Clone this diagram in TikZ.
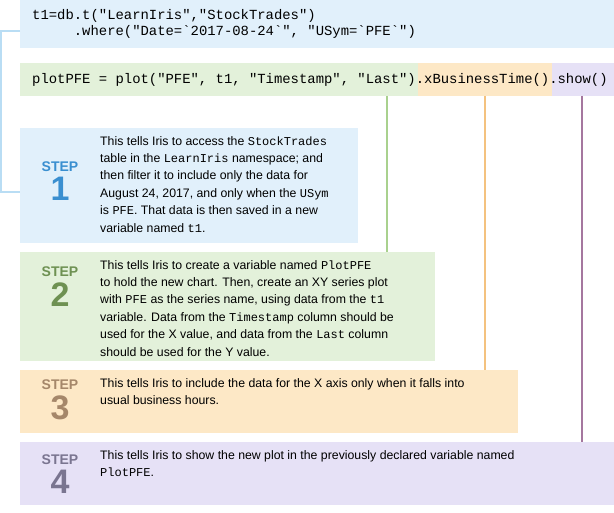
\documentclass[tikz,border=0pt]{standalone}
\usepackage{fontspec}
\setmainfont{Liberation Sans}
\setmonofont{Liberation Mono}
\usepackage{tikz}
\usetikzlibrary{positioning}
\definecolor{bluefill}{HTML}{E1F0FB}
\definecolor{blueink}{HTML}{3A8FD0}
\definecolor{blueline}{HTML}{B9DDF4}
\definecolor{greenfill}{HTML}{E3F1DA}
\definecolor{greenink}{HTML}{6E9152}
\definecolor{greenline}{HTML}{A9D18E}
\definecolor{orangefill}{HTML}{FDE8C6}
\definecolor{orangeink}{HTML}{A5876A}
\definecolor{orangeline}{HTML}{F4C27F}
\definecolor{purplefill}{HTML}{E6E1F6}
\definecolor{purpleink}{HTML}{7A7590}
\definecolor{purpleline}{HTML}{A5779F}
\tikzset{
  band/.style = {anchor=north west, inner sep=0pt, outer sep=0pt,
      minimum width=#1},
  codetext/.style = {anchor=west, inner sep=0pt, align=left,
      font=\fontsize{13.9}{16}\ttfamily},
  stepword/.style = {inner sep=0pt, font=\fontsize{14}{14}\bfseries},
  stepnum/.style = {inner sep=0pt, font=\fontsize{34}{34}\bfseries},
  steptext/.style = {anchor=north west, inner sep=0pt, align=left,
      font=\fontsize{12.3}{17.4}\selectfont},
  link/.style = {line width=1.6pt},
}
\newcommand{\cd}[1]{{\fontsize{12}{12}\ttfamily #1}}
\begin{document}
\begin{tikzpicture}[x=1pt, y=-1pt]
  \useasboundingbox (0,0) rectangle (614,513);

  % code lines
  \node[band=594, minimum height=48, fill=bluefill] (query) at (20,0) {};
  \node[band=398, minimum height=33, fill=greenfill] (plotcall) at (20,63) {};
  \node[band=134, minimum height=33, fill=orangefill] (bizcall) at (418,63) {};
  \node[band=62, minimum height=33, fill=purplefill] (showcall) at (552,63) {};
  \node[codetext] (querytext) at (32,24)
    {t1=db.t("LearnIris","StockTrades")\\
     \ \ \ \ \ .where("Date=`2017-08-24`", "USym=`PFE`")};
  \node[codetext] (plottext) at (32,80)
    {plotPFE = plot("PFE", t1, "Timestamp", "Last").xBusinessTime().show()};

  % step boxes
  \node[band=338, minimum height=115, fill=bluefill] (box1) at (20,128) {};
  \node[band=415, minimum height=109, fill=greenfill] (box2) at (20,252) {};
  \node[band=498, minimum height=63, fill=orangefill] (box3) at (20,370) {};
  \node[band=594, minimum height=63, fill=purplefill] (box4) at (20,442) {};

  \node[stepword, text=blueink] (step1) at (60,167) {STEP};
  \node[stepnum, text=blueink, below=5pt of step1] (num1) {1};
  \node[stepword, text=greenink] (step2) at (60,272) {STEP};
  \node[stepnum, text=greenink, below=5pt of step2] (num2) {2};
  \node[stepword, text=orangeink] (step3) at (60,385) {STEP};
  \node[stepnum, text=orangeink, below=5pt of step3] (num3) {3};
  \node[stepword, text=purpleink] (step4) at (60,460) {STEP};
  \node[stepnum, text=purpleink, below=5pt of step4] (num4) {4};

  \node[steptext] (text1) at (100,136)
    {This tells Iris to access the \cd{StockTrades}\\
     table in the \cd{LearnIris} namespace; and\\
     then filter it to include only the data for\\
     August 24, 2017, and only when the \cd{USym}\\
     is \cd{PFE}. That data is then saved in a new\\
     variable named \cd{t1}.};
  \node[steptext] (text2) at (100,260)
    {This tells Iris to create a variable named \cd{PlotPFE}\\
     to hold the new chart. Then, create an XY series plot\\
     with \cd{PFE} as the series name, using data from the \cd{t1}\\
     variable. Data from the \cd{Timestamp} column should be\\
     used for the X value, and data from the \cd{Last} column\\
     should be used for the Y value.};
  \node[steptext] (text3) at (100,378)
    {This tells Iris to include the data for the X axis only when it falls into\\
     usual business hours.};
  \node[steptext] (text4) at (100,450)
    {This tells Iris to show the new plot in the previously declared variable named\\
     \cd{PlotPFE}.};

  % connectors
  \draw[link, blueline] (query.west |- 0,31) -| (1,192) -- (box1.west |- 0,192);
  \draw[link, greenline] (plotcall.south -| 387,0) -- (box2.north -| 387,0);
  \draw[link, orangeline] (bizcall.south -| 485,0) -- (box3.north -| 485,0);
  \draw[link, purpleline] (showcall.south -| 582,0) -- (box4.north -| 582,0);
\end{tikzpicture}
\end{document}
